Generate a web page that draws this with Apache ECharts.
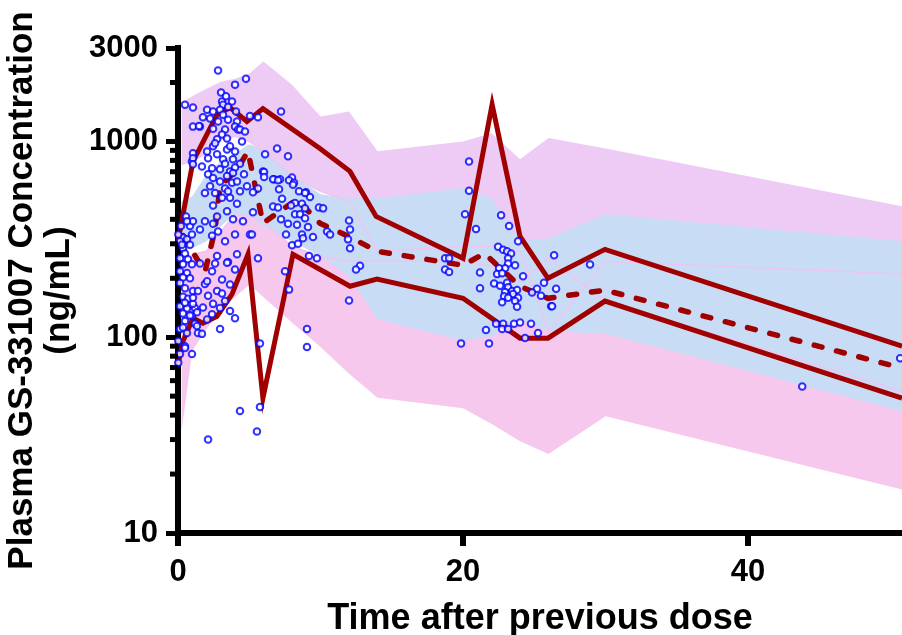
<!DOCTYPE html>
<html>
<head>
<meta charset="utf-8">
<title>GS-331007 VPC</title>
<script src="https://cdn.jsdelivr.net/npm/echarts@6/dist/echarts.min.js"></script>
<style>
  html, body { margin: 0; padding: 0; background: #fff; }
  #main { width: 902px; height: 635px; }
</style>
</head>
<body>
<div id="main"></div>
<script>
var FONT = '"Liberation Sans", Arial, Helvetica, sans-serif';

// time grid of the simulated prediction-interval bands (h)
var bandTime = [0.25, 1, 2, 3, 4, 5, 6, 8, 10, 12, 14, 20, 22, 24, 26, 30, 50.8];
// CI of the simulated 95th percentile
var upperBandHigh = [1580, 1700, 1860, 2020, 2090, 2220, 2560, 1950, 1340, 1420, 890, 1000, 1100, 810, 1040, 920, 466];
var upperBandLow = [764, 791, 869, 1024, 1062, 1000, 889, 663, 556, 494, 275, 291, 291, 275, 107, 244, 210];
// CI of the simulated median
var medianBandHigh = [494, 524, 679, 791, 869, 966, 910, 680, 537, 512, 512, 576, 512, 309, 320, 425, 309];
var medianBandLow = [275, 285, 309, 368, 429, 414, 368, 309, 259, 205, 124, 95.5, 101, 124, 107, 104, 41.9];
// CI of the simulated 5th percentile
var lowerBandHigh = [217, 265, 275, 347, 425, 414, 391, 291, 259, 244, 244, 244, 230, 193, 253, 153, 53];
var lowerBandLow = [33.1, 85, 110, 136, 160, 186, 160, 119, 89, 65, 49, 43.4, 36, 29.4, 25.3, 39.5, 16.7];

// observed percentiles
var obsP95 = [[0, 310], [1.05, 790], [2.74, 1370], [3.65, 1490], [4.84, 1265], [5.96, 1470], [9.96, 920],
  [12.07, 703], [13.9, 414], [20, 253], [22.04, 1545], [24, 327], [25.96, 200], [29.96, 281], [50.8, 90]];
var obsMedian = [[0.35, 330], [1.89, 215], [2.6, 356], [2.95, 589], [4.14, 719], [4.91, 889], [5.96, 382],
  [8.35, 506], [9.96, 382], [12, 327], [13.96, 275], [20, 233], [21.5, 268], [24, 182], [25.96, 158],
  [29.96, 174], [50.8, 69.5]];
var obsP5 = [[0, 72.8], [0.35, 95.4], [1.05, 125], [1.75, 118], [2.74, 128], [3.79, 166], [4.91, 265],
  [5.96, 48.9], [8.07, 265], [12.07, 182], [13.96, 198], [20, 158], [24, 98.9], [25.96, 98.9],
  [29.96, 153], [50.8, 48.9]];

// observed concentrations [time (h), ng/mL]
var obsPoints = [
  [0.35,323],[0.14,309],[0.63,316],[0.35,285],[0.84,297],[0.49,268],[0.14,253],[0.70,250],[0.35,236],[0.98,236],
  [0.14,217],[0.63,213],[0.35,202],[0.84,200],[0.14,189],[0.49,178],[1.05,172],[0.35,161],[0.70,157],[0.14,144],
  [0.63,140],[1.19,141],[0.35,132],[0.98,129],[0.49,150],[1.05,148],[0.49,121],[0.84,129],[0.14,110],[0.63,105],
  [0.02,95.5],[0.49,90],[0.14,82],[0.02,74],[0.98,82],[1.19,117],[1.40,105],[1.68,104],[2.95,110],[4.0,125],
  [5.75,93],[4.35,42],[5.75,44],[5.54,33],[2.11,30],[0.49,1540],[1.05,1490],[1.05,1190],[1.54,1190],[1.05,870],
  [0.98,790],[0.02,335],[0.28,297],[0.21,370],[0.56,414],[0.84,370],[1.05,391],[0.98,335],[1.54,355],[0.63,391],
  [2.81,2300],[4.77,2090],[4.0,1950],[3.02,1780],[3.09,1600],[3.16,1540],[2.04,1450],[2.46,1420],[2.95,1450],[3.16,1370],
  [2.25,1310],[2.81,1265],[3.51,1290],[4.14,1265],[4.0,1190],[4.21,1150],[5.05,1350],[5.61,1330],[7.23,1420],[1.47,1200],
  [2.46,1160],[3.30,1150],[3.09,1085],[3.44,1035],[2.74,1025],[2.46,945],[3.44,910],[4.0,889],[4.49,1000],[2.04,889],
  [2.74,860],[2.11,820],[3.16,810],[3.86,810],[4.35,770],[6.11,860],[6.95,920],[7.72,840],[1.05,820],[1.05,765],
  [1.68,745],[2.39,730],[2.95,720],[3.65,703],[4.0,736],[2.11,680],[2.46,650],[3.44,665],[3.86,690],[4.63,680],
  [1.89,545],[2.60,545],[3.30,575],[3.79,615],[4.14,625],[4.84,590],[5.96,703],[6.74,640],[7.16,640],[8.0,655],
  [3.09,515],[3.65,515],[4.14,480],[2.46,470],[3.44,440],[2.74,414],[1.89,391],[2.46,380],[3.86,400],[4.56,391],
  [5.05,335],[4.0,335],[2.6,980],[3.65,945],[3.3,770],[2.95,625],[4.35,556],[3.51,556],[2.25,590],[2.81,347],
  [3.3,309],[2.39,330],[4.35,1150],[4.7,1125],[1.75,1330],[3.79,1600],[3.51,1500],[4.07,1420],[3.37,1700],
  [6.04,697],[6.04,658],[6.67,640],[7.02,633],[7.79,633],[8.14,615],[5.61,575],[5.26,550],[7.09,570],[8.49,556],
  [8.98,550],[9.26,520],[7.3,510],[8.21,485],[8.7,480],[6.67,465],[7.02,460],[7.93,470],[8.91,455],[9.89,460],
  [10.18,455],[5.26,435],[8.21,425],[8.56,425],[8.91,405],[7.23,400],[7.72,380],[8.35,375],[9.12,365],[10.46,347],
  [10.67,335],[5.19,335],[7.58,335],[8.7,335],[8.77,320],[9.47,325],[12.0,395],[12.07,355],[11.93,316],[12.07,285],
  [8.0,295],[8.42,300],[9.19,260],[9.75,253],[12.77,232],[12.49,222],[5.61,253],[7.51,217],[7.79,175],[12.0,154],
  [4.14,265],[3.51,242],[4.0,222],[9.05,110],[9.05,89],[8.91,545],[8.07,600],
  [1.40,172],[1.89,187],[2.11,163],[2.74,172],[3.09,167],[3.30,153],[2.46,148],[1.75,142],[1.33,134],[2.95,141],
  [3.65,136],[2.39,131],[2.04,123],[1.33,114],[0.49,88],[0.35,112],[2.74,260],[3.44,240],[2.04,193],[1.05,159],
  [2.39,217],[1.54,238],[3.09,197],[3.65,186],[2.6,238],
  [20.42,790],[20.42,560],[20.14,425],[22.67,420],[23.23,370],[23.86,309],[20.91,357],[18.74,253],[19.02,253],[18.74,222],
  [19.02,215],[22.46,290],[22.81,280],[23.09,275],[23.37,268],[23.16,253],[23.65,233],[23.16,238],[22.95,225],[22.53,225],
  [22.39,210],[22.74,212],[21.19,214],[24.21,205],[22.18,188],[22.6,183],[23.09,190],[23.16,180],[23.44,172],[22.95,170],
  [23.79,174],[22.88,162],[23.51,166],[23.86,159],[23.16,159],[23.65,153],[22.74,151],[23.79,143],[21.19,178],[25.68,190],
  [25.19,177],[26.53,177],[24.84,169],[25.47,163],[26.18,144],[22.32,117],[22.81,117],[23.58,117],[24.0,119],[24.77,117],
  [21.61,109],[22.74,110],[23.16,110],[24.35,99],[25.26,105],[19.86,93],[21.82,93],[26.39,262],[28.91,235],[26.25,144],
  [43.8,56],[50.67,78]
];

// axis ticks
var xTickValues = [0, 20, 40];
var yMinorTicks = [20, 30, 40, 50, 60, 70, 80, 90, 200, 300, 400, 500, 600, 700, 800, 900, 2000];

var myChart = echarts.init(document.getElementById('main'));

function bandSeries(lo, hi, color, z) {
    return {
        type: 'custom',
        z: z,
        silent: true,
        clip: true,
        data: bandTime.map(function (t, i) { return [t, lo[i], hi[i]]; }),
        renderItem: function (params, api) {
            if (params.dataIndex !== 0) return null;
            var top = [], bottom = [];
            for (var i = 0; i < bandTime.length; i++) {
                top.push(api.coord([bandTime[i], hi[i]]));
                bottom.unshift(api.coord([bandTime[i], lo[i]]));
            }
            return {
                type: 'polygon',
                shape: { points: top.concat(bottom) },
                style: { fill: color }
            };
        }
    };
}

function edgeLine(values, z) {
    return {
        type: 'line',
        z: z,
        silent: true,
        symbol: 'none',
        data: bandTime.map(function (t, i) { return [t, values[i]]; }),
        lineStyle: { color: '#eec4f0', width: 1.5 }
    };
}

function obsLine(data, dashed) {
    return {
        type: 'line',
        z: 5,
        silent: true,
        symbol: 'none',
        data: data,
        lineStyle: {
            color: '#a00000',
            width: dashed ? 5.5 : 5,
            type: dashed ? [8, 15] : 'solid',
            cap: dashed ? 'round' : 'butt',
            join: 'miter',
            miterLimit: 12
        }
    };
}

option = {
    animation: false,
    backgroundColor: '#fff',
    grid: { left: 178, right: 0, top: 48, bottom: 102, containLabel: false, outerBoundsMode: 'none' },
    xAxis: {
        type: 'value',
        min: 0,
        max: 50.8,
        name: 'Time after previous dose',
        nameLocation: 'middle',
        nameGap: 68,
        nameTextStyle: { fontFamily: FONT, fontSize: 36, fontWeight: 'bold', color: '#000' },
        axisLine: { onZero: false, lineStyle: { color: '#000', width: 6, cap: 'square' } },
        axisTick: { customValues: xTickValues, length: 13, lineStyle: { color: '#000', width: 6 } },
        axisLabel: { customValues: xTickValues, margin: 24, fontFamily: FONT, fontSize: 31, fontWeight: 'bold', color: '#000' },
        splitLine: { show: false }
    },
    yAxis: {
        type: 'log',
        logBase: 10,
        min: 10,
        max: 3000,
        name: 'Plasma GS-331007 Concentration\n(ng/mL)',
        nameLocation: 'middle',
        nameGap: 96,
        nameTextStyle: { fontFamily: FONT, fontSize: 35, lineHeight: 37, fontWeight: 'bold', color: '#000' },
        axisLine: { show: true, lineStyle: { color: '#000', width: 6, cap: 'square' } },
        axisTick: { show: true, length: 12, lineStyle: { color: '#000', width: 5 } },
        axisLabel: {
            margin: 20, fontFamily: FONT, fontSize: 31, fontWeight: 'bold', color: '#000',
            formatter: function (v) { return String(Math.round(v)); }
        },
        splitLine: { show: false }
    },
    series: [
        bandSeries(upperBandLow, upperBandHigh, '#edcbf5', 1),
        bandSeries(lowerBandLow, lowerBandHigh, '#f6c8ee', 1),
        bandSeries(medianBandLow, medianBandHigh, '#c8dcf5', 2),
        edgeLine(upperBandLow, 3),
        edgeLine(lowerBandHigh, 3),
        obsLine(obsP95, false),
        obsLine(obsMedian, true),
        obsLine(obsP5, false),
        {
            type: 'scatter',
            z: 6,
            silent: true,
            symbol: 'emptyCircle',
            symbolSize: 6.5,
            data: obsPoints,
            itemStyle: { color: '#0000ff', borderWidth: 1.6 }
        },
        {
            // minor ticks of the log axis at 20..90, 200..900, 2000
            type: 'custom',
            z: 10,
            silent: true,
            clip: false,
            data: yMinorTicks.map(function (v) { return [0, v]; }),
            renderItem: function (params, api) {
                var p = api.coord([api.value(0), api.value(1)]);
                return {
                    type: 'line',
                    shape: { x1: p[0] - 8, y1: p[1], x2: p[0], y2: p[1] },
                    style: { stroke: '#000', lineWidth: 5 }
                };
            }
        }
    ]
};

myChart.setOption(option);
</script>
</body>
</html>
